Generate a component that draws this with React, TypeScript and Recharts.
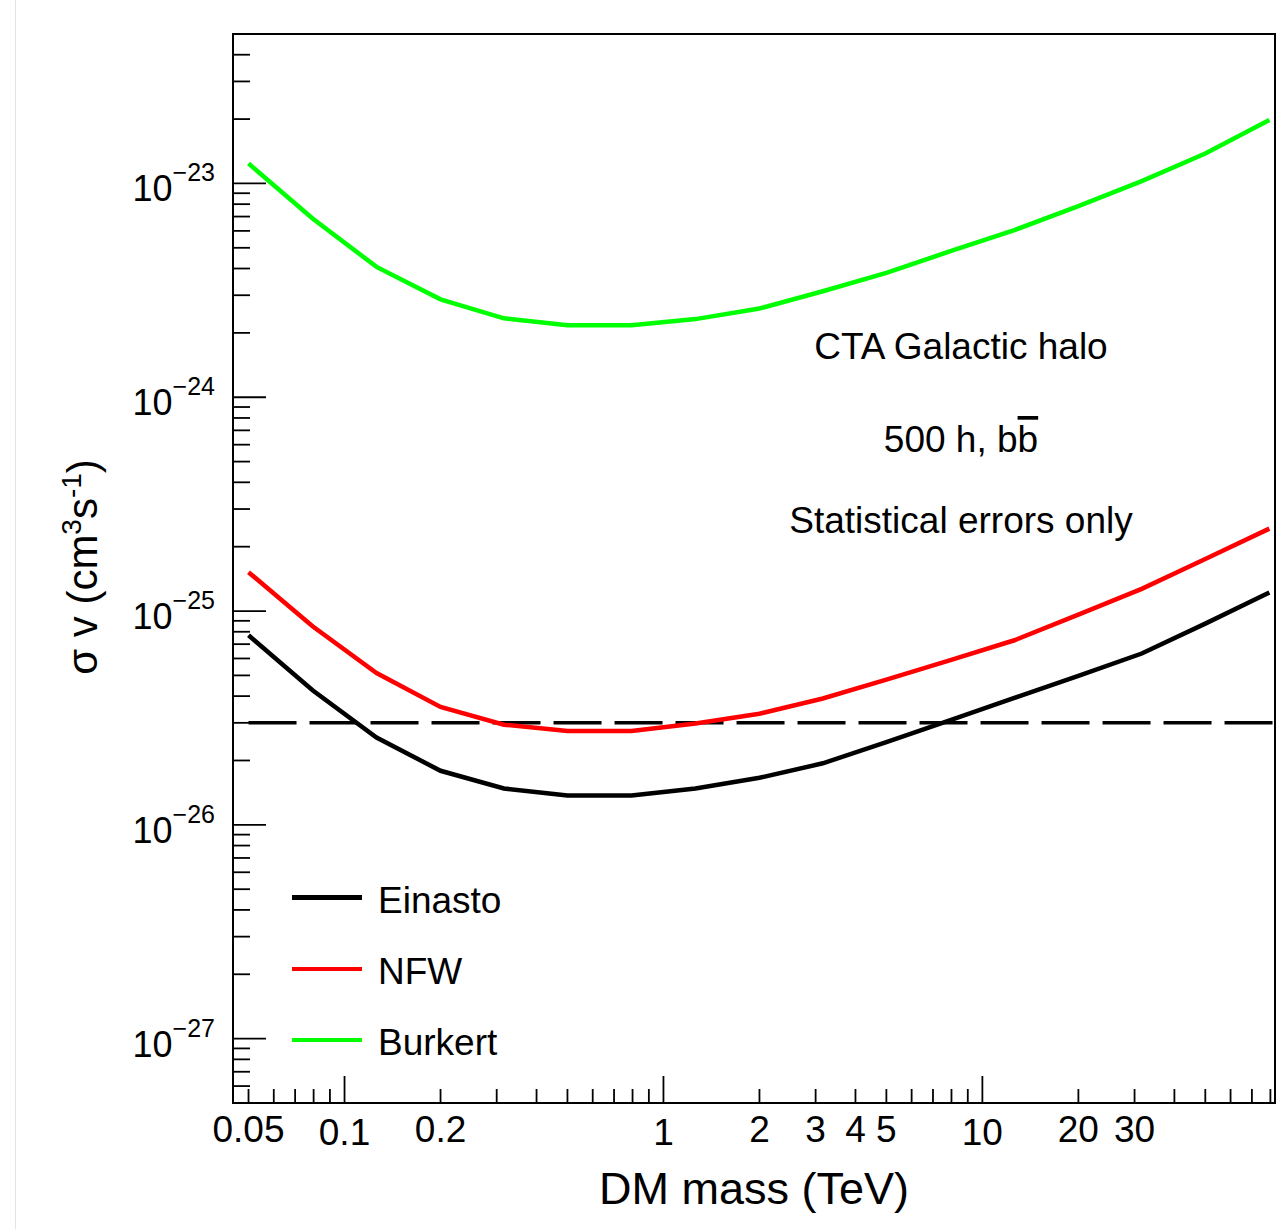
import React from 'react';
import { LineChart, Line, XAxis, YAxis, ReferenceLine, ReferenceArea, Legend } from 'recharts';

// DM mass grid (TeV) and sigma-v limits
const massTeV = [0.05, 0.0794, 0.126, 0.2, 0.316, 0.5, 0.794, 1.26, 2, 3.16, 5, 7.94, 12.6, 20, 31.6, 50, 79.4];
const einasto = [7.7e-26, 4.26e-26, 2.56e-26, 1.79e-26, 1.48e-26, 1.37e-26, 1.37e-26, 1.48e-26, 1.66e-26, 1.94e-26, 2.44e-26, 3.09e-26, 3.92e-26, 4.97e-26, 6.33e-26, 8.73e-26, 1.22e-25];
const nfw = [1.52e-25, 8.49e-26, 5.13e-26, 3.56e-26, 2.94e-26, 2.75e-26, 2.75e-26, 2.98e-26, 3.31e-26, 3.9e-26, 4.78e-26, 5.89e-26, 7.3e-26, 9.63e-26, 1.27e-25, 1.75e-25, 2.43e-25];
const burkert = [1.24e-23, 6.86e-24, 4.07e-24, 2.87e-24, 2.34e-24, 2.17e-24, 2.17e-24, 2.32e-24, 2.6e-24, 3.13e-24, 3.82e-24, 4.82e-24, 6.05e-24, 7.83e-24, 1.026e-23, 1.38e-23, 1.98e-23];
const thermalRelic = 3e-26;

// axis ticks
const xTicks = [0.05, 0.06, 0.07, 0.08, 0.09, 0.1, 0.2, 0.3, 0.4, 0.5, 0.6, 0.7, 0.8, 0.9, 1, 2, 3, 4, 5, 6, 7, 8, 9, 10, 20, 30, 40, 50, 60, 70, 80];
const xLabels = [0.05, 0.1, 0.2, 1, 2, 3, 4, 5, 10, 20, 30];
const xMajor = [0.1, 1, 10];
const yDecades = [-28, -27, -26, -25, -24, -23];
const yMantissas = [1, 2, 3, 4, 5, 6, 7, 8, 9];

const X_DOMAIN: [number, number] = [0.0447, 82.7];
const Y_DOMAIN: [number, number] = [5e-28, 5e-23];

const yTicks: number[] = [];
yDecades.forEach((d) => {
  yMantissas.forEach((m) => {
    const v = m * Math.pow(10, d);
    if (v > Y_DOMAIN[0] * 1.01 && v < Y_DOMAIN[1] * 0.99) yTicks.push(v);
  });
});

const series = [
  { key: 'einasto', name: 'Einasto', color: '#000000' },
  { key: 'nfw', name: 'NFW', color: '#ff0000' },
  { key: 'burkert', name: 'Burkert', color: '#00ff00' },
];

const data = massTeV.map((m, i) => ({
  m,
  einasto: einasto[i],
  nfw: nfw[i],
  burkert: burkert[i],
}));

const FONT = '"Liberation Sans", Arial, Helvetica, sans-serif';

function XTick(props: any) {
  const { x, y, payload } = props;
  const v = payload.value;
  const major = xMajor.includes(v);
  const labelled = xLabels.includes(v);
  return (
    <g>
      <line x1={x} x2={x} y1={y} y2={y - (major ? 27 : 14)} stroke="#000" strokeWidth={1.8} />
      {labelled && (
        <text x={x} y={y + (major ? 42 : 39)} textAnchor="middle" fontFamily={FONT} fontSize={37} fill="#000">
          {String(v)}
        </text>
      )}
    </g>
  );
}

function YTick(props: any) {
  const { x, y, payload } = props;
  const e = Math.log10(payload.value);
  const major = Math.abs(e - Math.round(e)) < 1e-6;
  return (
    <g>
      <line x1={x} x2={x + (major ? 33 : 17)} y1={y} y2={y} stroke="#000" strokeWidth={1.8} />
      {major && (
        <text x={x - 18} y={y + 18} textAnchor="end" fontFamily={FONT} fontSize={36} fill="#000">
          10
          <tspan dy={-20} fontSize={25}>{'\u2212' + Math.abs(Math.round(e))}</tspan>
        </text>
      )}
    </g>
  );
}

function LegendBox() {
  return (
    <div style={{ fontFamily: FONT }}>
      {series.map((s) => (
        <div key={s.key} style={{ display: 'flex', alignItems: 'center', height: 71.3 }}>
          <div style={{ width: 70, height: 4.5, background: s.color, marginRight: 16 }} />
          <span style={{ fontSize: 37, color: '#000', marginTop: 6 }}>{s.name}</span>
        </div>
      ))}
    </div>
  );
}

export default function App() {
  return (
    <div style={{ position: 'absolute', left: 0, top: 0, width: 1285, height: 1229, background: '#fff' }}>
      <div style={{ position: 'absolute', left: 15, top: 0, width: 1, height: 1229, background: '#e4e4e4' }} />
      <LineChart width={1285} height={1229} data={data} margin={{ top: 34, right: 10, bottom: 0, left: 0 }}>
        <XAxis
          dataKey="m"
          type="number"
          scale="log"
          domain={X_DOMAIN}
          allowDataOverflow
          ticks={xTicks}
          interval={0}
          height={126}
          tickSize={0}
          tickMargin={0}
          axisLine={false}
          tickLine={false}
          tick={<XTick />}
        />
        <YAxis
          type="number"
          scale="log"
          domain={Y_DOMAIN}
          allowDataOverflow
          ticks={yTicks}
          interval={0}
          width={233}
          tickSize={0}
          tickMargin={0}
          axisLine={false}
          tickLine={false}
          tick={<YTick />}
        />
        <ReferenceArea
          x1={X_DOMAIN[0]}
          x2={X_DOMAIN[1]}
          y1={Y_DOMAIN[0]}
          y2={Y_DOMAIN[1]}
          fill="none"
          stroke="#000"
          strokeWidth={2}
          ifOverflow="visible"
        />
        <ReferenceLine
          segment={[
            { x: 0.05, y: thermalRelic },
            { x: X_DOMAIN[1], y: thermalRelic },
          ]}
          stroke="#000"
          strokeWidth={3.5}
          strokeDasharray="48 13"
        />
        <Line type="linear" dataKey="burkert" stroke="#00ff00" strokeWidth={4.5} dot={false} isAnimationActive={false} />
        <Line type="linear" dataKey="nfw" stroke="#ff0000" strokeWidth={4.5} dot={false} isAnimationActive={false} />
        <Line type="linear" dataKey="einasto" stroke="#000000" strokeWidth={4.5} dot={false} isAnimationActive={false} />
        <Legend
          layout="vertical"
          align="center"
          verticalAlign="middle"
          content={() => <LegendBox />}
          wrapperStyle={{ position: 'absolute', left: 292, top: 862, width: 260 }}
        />
      </LineChart>
      <svg width={1285} height={1229} style={{ position: 'absolute', left: 0, top: 0, pointerEvents: 'none' }}>
        <g fontFamily={FONT} fill="#000">
          <text x={961} y={359} textAnchor="middle" fontSize={37}>CTA Galactic halo</text>
          <text x={961} y={452} textAnchor="middle" fontSize={37}>
            500 h, b<tspan style={{ textDecoration: 'overline' }}>b</tspan>
          </text>
          <text x={961} y={533} textAnchor="middle" fontSize={37}>Statistical errors only</text>
          <text x={754} y={1204} textAnchor="middle" fontSize={45}>DM mass (TeV)</text>
          <text transform="translate(97,567) rotate(-90)" textAnchor="middle" fontSize={42}>
            {'\u03c3 v (cm'}
            <tspan dy={-16} fontSize={28}>3</tspan>
            <tspan dy={16}>s</tspan>
            <tspan dy={-16} fontSize={28}>-1</tspan>
            <tspan dy={16}>)</tspan>
          </text>
        </g>
      </svg>
    </div>
  );
}
